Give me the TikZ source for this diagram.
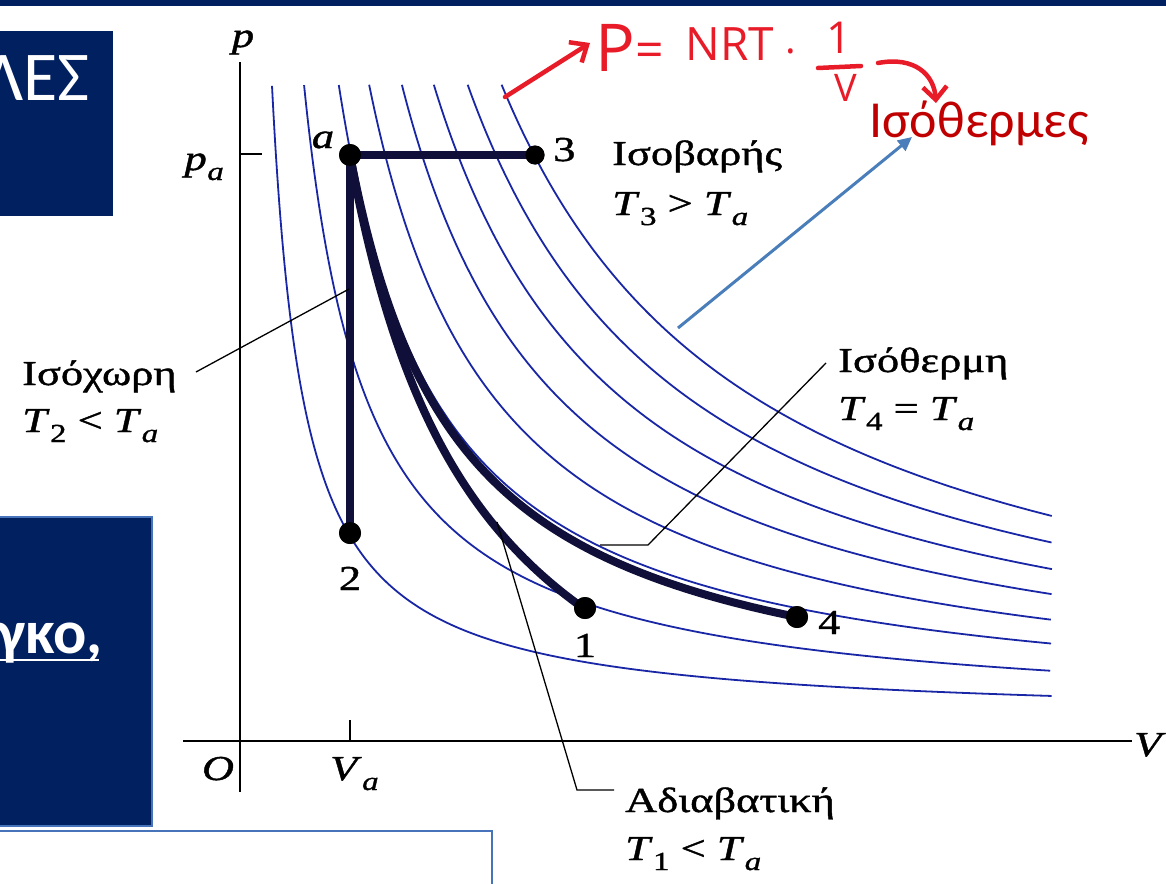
\documentclass[tikz,border=0pt]{standalone}
\usepackage{fontspec}
\setmainfont{Liberation Serif}
\newfontfamily\labf[FakeStretch=1.27,FakeBold=1.2]{Liberation Serif}
\newfontfamily\carl{Carlito}
\newfontfamily\hand{Open Sans}
\usetikzlibrary{arrows.meta}
\definecolor{navy}{RGB}{0,32,96}
\definecolor{bord}{RGB}{70,115,185}
\definecolor{isoblue}{RGB}{25,38,165}
\definecolor{procc}{RGB}{15,15,58}
\definecolor{arrowblue}{RGB}{74,126,187}
\definecolor{handred}{RGB}{232,28,40}
\definecolor{darkred}{RGB}{192,0,0}
% italic symbol with subscript (subscript given as text, italic or upright)
\newcommand\sbs[2]{\textit{#1}\kern0.5pt\raisebox{-10pt}{\fontsize{26}{26}\selectfont #2}}
\begin{document}
\begin{tikzpicture}[x=1pt,y=-1pt,
  iso/.style={draw=isoblue, line width=1.8pt},
  proc/.style={draw=procc, line width=8pt},
  dot/.style={circle, fill=black, minimum size=22pt, inner sep=0pt},
  ptr/.style={draw=black, line width=1.3pt},
  axis/.style={draw=black, line width=2.3pt},
  lab/.style={font=\labf\fontsize{35}{40}\selectfont, inner sep=0pt, text=black},
  hnd/.style={text=handred, inner sep=0pt},
  hline/.style={draw=handred, line width=4.5pt, line cap=round, line join=round}]
\useasboundingbox (0,0) rectangle (1166,883);
% top bar
\fill[navy] (0,0) rectangle (1166,6);
% top-left box
\begin{scope}
  \clip (0,31) rectangle (113,216);
  \fill[navy] (0,31) rectangle (113,216);
  \node[anchor=base east, text=white, inner sep=0pt, font=\carl\fontsize{70}{70}\selectfont] (les) at (90,100) {ΛΕΣ};
\end{scope}
% middle-left box
\fill[navy, draw=bord, line width=1.5pt] (-3,517) rectangle (152,826);
\node[anchor=base west, text=white, inner sep=0pt, font=\carl\bfseries\fontsize{62}{62}\selectfont] (gko) at (-4,653) {γκο,};
\draw[white, line width=2.5pt] (0,660) -- (99,660);
% bottom box
\draw[bord, line width=1.5pt, fill=white] (-5,831) rectangle (492,905);

% isotherms
\foreach \c/\u in {203.3/3.466, 407.4/4.160, 628.3/4.593, 821.7/4.861, 1029.9/5.087, 1233.2/5.267, 1448.6/5.428, 1664.6/5.567}
  \draw[iso] plot[domain=\u:6.6995, samples=150, variable=\t] ({240+exp(\t)}, {721-\c*(100/exp(\t))});

% axes
\draw[axis] (240,62) -- (240,792);
\draw[axis] (183,741) -- (1132,741);
\draw[axis] (240,154) -- (262,154);
\draw[axis] (350,741) -- (350,720);

% points
\node[dot] (a) at (350,155) {};
\node[dot, minimum size=19pt] (p3) at (535,155) {};
\node[dot] (p2) at (350,533) {};
\node[dot] (p1) at (585,608) {};
\node[dot] (p4) at (797,617) {};

% processes
\draw[proc] (a.center) -- (p3.center);
\draw[proc] (a.center) -- (p2.center);
\draw[proc] plot[domain=4.7005:6.3226, samples=120, variable=\t] ({240+exp(\t)}, {730.7-633.27*(100/exp(\t))});
\draw[proc] plot[domain=4.7005:5.8435, samples=120, variable=\t] ({240+exp(\t)}, {913-325.6*(100/exp(0.8*\t))});
\node[dot] at (a) {};
\node[dot, minimum size=19pt] at (p3) {};
\node[dot] at (p2) {};
\node[dot] at (p1) {};
\node[dot] at (p4) {};

% axis labels
\node[lab, anchor=base] (lp) at (243,47) {\textit{p}};
\node[lab, anchor=base east] (lpa) at (224,170) {\sbs{p}{\textit{a}}};
\node[lab, anchor=base] (lO) at (218,780) {\textit{O}};
\node[lab, anchor=base west] (lVa) at (330,780) {\sbs{V}{\textit{a}}};
\node[lab, anchor=base west] (lV) at (1134,756) {\textit{V}};

% point labels
\node[lab, anchor=base] (la) at (323,148) {\textit{a}};
\node[lab, anchor=base west] (l3) at (553,161) {3};
\node[lab, anchor=base] (l2) at (350,590) {2};
\node[lab, anchor=base] (l1) at (585,657) {1};
\node[lab, anchor=base west] (l4) at (818,634) {4};

% process labels
\node[lab, anchor=base west] (tb) at (612,165) {Ισοβαρής};
\node[lab, anchor=base west] (tb2) at (612,215) {\sbs{T}{3} > \sbs{T}{\textit{a}}};
\node[lab, anchor=base west] (tc) at (22,385) {Ισόχωρη};
\node[lab, anchor=base west] (tc2) at (22,432) {\sbs{T}{2} < \sbs{T}{\textit{a}}};
\node[lab, anchor=base west] (tt) at (838,372) {Ισόθερμη};
\node[lab, anchor=base west] (tt2) at (838,420) {\sbs{T}{4} = \sbs{T}{\textit{a}}};
\node[lab, anchor=base west] (td) at (625,812) {Αδιαβατική};
\node[lab, anchor=base west] (td2) at (625,860) {\sbs{T}{1} < \sbs{T}{\textit{a}}};

% pointer lines
\coordinate (cc1) at (196,372);
\coordinate (cc2) at (349,289);
\draw[ptr] (cc1) -- (cc2);
\coordinate (ct1) at (826,363);
\coordinate (ct2) at (648,545);
\coordinate (ct3) at (600,545);
\draw[ptr] (ct1) -- (ct2) -- (ct3);
\coordinate (cd1) at (497,522);
\coordinate (cd2) at (577,790);
\coordinate (cd3) at (614,790);
\draw[ptr] (cd1) -- (cd2) -- (cd3);

% red annotations
\node[anchor=base west, text=darkred, inner sep=0pt, font=\carl\fontsize{52}{52}\selectfont] (isoth) at (869,137) {Ισόθερμες};
\coordinate (ba) at (678,328);
\coordinate (bb) at (912,137);
\draw[draw=arrowblue, line width=3pt, -{Triangle[length=14pt,width=13pt]}] (ba) -- (bb);

\node[hnd, font=\hand\fontsize{66}{66}\selectfont] (hP) at (615,48) {P};
\node[hnd, font=\hand\fontsize{50}{50}\selectfont] (heq) at (650,55) {=};
\node[hnd, font=\hand\fontsize{46}{46}\selectfont] (hN) at (730,44) {NRT};
\node[hnd, font=\hand\fontsize{40}{40}\selectfont] (hdot) at (791,57) {·};
\node[hnd, font=\hand\fontsize{44}{44}\selectfont] (h1) at (839,38) {1};
\node[hnd, font=\hand\fontsize{38}{38}\selectfont] (hV) at (846,88) {V};
\draw[hline] (818,68) -- (861,66);
\coordinate (ra) at (505,97);
\coordinate (rb) at (590,43);
\draw[hline, -{Straight Barb[length=14pt,width=24pt]}] (ra) -- (rb);
\coordinate (rc) at (878,63);
\coordinate (rd) at (936,103);
\draw[hline, -{Straight Barb[length=13pt,width=24pt]}] (rc) .. controls (915,56) and (934,75) .. (rd);
\end{tikzpicture}
\end{document}
